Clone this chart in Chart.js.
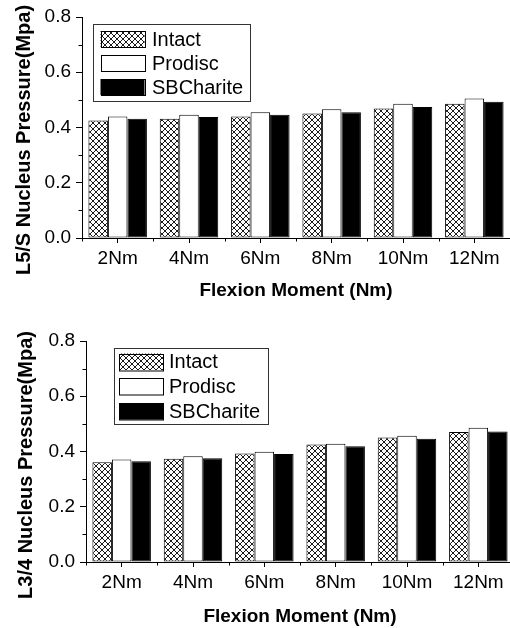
<!DOCTYPE html>
<html>
<head>
<meta charset="utf-8">
<script src="https://cdn.jsdelivr.net/npm/chart.js@4"></script>
<style>
  html, body { margin: 0; padding: 0; background: #fff; }
  body { width: 510px; height: 628px; overflow: hidden; position: relative; }
  canvas { position: absolute; left: 0; }
  #top { top: 0; }
  #bottom { top: 310px; }
</style>
</head>
<body>
<canvas id="top" width="510" height="310"></canvas>
<canvas id="bottom" width="514" height="318"></canvas>
<script>
const moments = ['2Nm', '4Nm', '6Nm', '8Nm', '10Nm', '12Nm'];
const seriesNames = ['Intact', 'Prodisc', 'SBCharite'];

// L5/S disc
const l5Intact = [0.425, 0.432, 0.440, 0.451, 0.469, 0.486];
const l5Prodisc = [0.440, 0.446, 0.455, 0.466, 0.486, 0.505];
const l5Charite = [0.432, 0.438, 0.446, 0.455, 0.474, 0.493];

// L3/4 disc
const l3Intact = [0.361, 0.374, 0.393, 0.425, 0.451, 0.471];
const l3Prodisc = [0.371, 0.383, 0.399, 0.428, 0.457, 0.486];
const l3Charite = [0.365, 0.376, 0.391, 0.419, 0.446, 0.472];

const yMin = 0, yMax = 0.8, yStep = 0.2;

const FONT = '"Liberation Sans", Arial, sans-serif';

function crossHatch() {
    const c = document.createElement('canvas');
    c.width = 6; c.height = 6;
    const g = c.getContext('2d');
    g.fillStyle = '#fff';
    g.fillRect(0, 0, 6, 6);
    g.strokeStyle = '#000';
    g.lineWidth = 0.9;
    g.beginPath();
    g.moveTo(-1, -1); g.lineTo(7, 7);
    g.moveTo(7, -1); g.lineTo(-1, 7);
    g.stroke();
    return g.createPattern(c, 'repeat');
}

// axis titles, minor ticks and the boxed legend
const decor = {
    id: 'decor',
    afterDraw(chart, args, o) {
        const ctx = chart.ctx;
        const ca = chart.chartArea;
        const xs = chart.scales.x, ys = chart.scales.y;
        ctx.save();
        ctx.strokeStyle = '#000';
        ctx.lineWidth = 1;

        ctx.beginPath();
        for (let v = yMin + yStep / 2; v < yMax; v += yStep) {
            const py = Math.round(ys.getPixelForValue(v)) + 0.5;
            ctx.moveTo(ca.left - 3.5, py);
            ctx.lineTo(ca.left, py);
        }
        for (let i = 0; i <= moments.length; i++) {
            const px = Math.round(xs.getPixelForValue(i - 0.5)) + 0.5;
            ctx.moveTo(px, ca.bottom);
            ctx.lineTo(px, ca.bottom + 3.5);
        }
        ctx.stroke();

        // titles
        ctx.fillStyle = '#000';
        ctx.textAlign = 'center';
        ctx.textBaseline = 'middle';
        ctx.font = 'bold 19px ' + FONT;
        ctx.fillText(o.xTitle, (ca.left + ca.right) / 2, o.xTitleY);
        ctx.save();
        ctx.translate(o.yTitleX, o.yTitleY);
        ctx.rotate(-Math.PI / 2);
        ctx.font = 'bold 20px ' + FONT;
        ctx.fillText(o.yTitle, 0, 0);
        ctx.restore();

        // legend
        const L = o.legend;
        ctx.strokeStyle = '#333';
        ctx.strokeRect(Math.round(L.x) + 0.5, Math.round(L.y) + 0.5, L.w, L.h);
        ctx.font = '20px ' + FONT;
        ctx.textAlign = 'left';
        chart.data.datasets.forEach((ds, i) => {
            const sy = L.y + L.first + i * L.step;
            ctx.fillStyle = ds.backgroundColor;
            ctx.fillRect(L.x + L.sx, sy, L.sw, L.sh);
            ctx.strokeStyle = '#000';
            ctx.strokeRect(Math.round(L.x + L.sx) + 0.5, Math.round(sy) + 0.5, L.sw, L.sh);
            ctx.fillStyle = '#000';
            ctx.fillText(ds.label, L.x + L.tx, sy + L.sh / 2 + 1);
        });
        ctx.restore();
    }
};

function makeChart(id, intact, prodisc, charite, lay) {
    const hatch = crossHatch();
    const bar = (label, data, bg) => ({
        label: label,
        data: data,
        backgroundColor: bg,
        borderColor: '#000',
        borderWidth: 1,
        borderSkipped: false,
        barPercentage: 1.0,
        categoryPercentage: 0.82
    });
    return new Chart(document.getElementById(id), {
        type: 'bar',
        data: {
            labels: moments,
            datasets: [
                bar(seriesNames[0], intact, hatch),
                bar(seriesNames[1], prodisc, '#fff'),
                bar(seriesNames[2], charite, '#000')
            ]
        },
        options: {
            responsive: false,
            animation: false,
            devicePixelRatio: 1,
            layout: { padding: { top: lay.top, left: 0, right: 0, bottom: 0 } },
            plugins: {
                legend: { display: false },
                tooltip: { enabled: false },
                decor: lay.decor
            },
            scales: {
                x: {
                    afterFit: s => { s.height = lay.xHeight; },
                    grid: { offset: false, drawOnChartArea: false, tickLength: 5, color: '#000', tickColor: '#000' },
                    border: { display: true, color: '#000', width: 1 },
                    ticks: { color: '#000', padding: 4, font: { family: FONT, size: 19 } }
                },
                y: {
                    min: yMin,
                    max: yMax,
                    afterFit: s => { s.width = lay.yWidth; },
                    grid: { drawOnChartArea: false, tickLength: 6, color: '#000', tickColor: '#000' },
                    border: { display: true, color: '#000', width: 1 },
                    ticks: {
                        stepSize: yStep,
                        color: '#000',
                        padding: 5,
                        font: { family: FONT, size: 19 },
                        callback: v => v.toFixed(1)
                    }
                }
            }
        },
        plugins: [decor]
    });
}

makeChart('top', l5Intact, l5Prodisc, l5Charite, {
    top: 17, xHeight: 72, yWidth: 82,
    decor: {
        xTitle: 'Flexion Moment (Nm)', xTitleY: 291,
        yTitle: 'L5/S Nucleus Pressure(Mpa)', yTitleX: 24, yTitleY: 140,
        legend: { x: 93, y: 24, w: 157, h: 77, sx: 7.5, sw: 44, sh: 16, tx: 59, first: 7, step: 24 }
    }
});

makeChart('bottom', l3Intact, l3Prodisc, l3Charite, {
    top: 31, xHeight: 66, yWidth: 86,
    decor: {
        xTitle: 'Flexion Moment (Nm)', xTitleY: 307,
        yTitle: 'L3/4 Nucleus Pressure(Mpa)', yTitleX: 26, yTitleY: 155,
        legend: { x: 114, y: 38, w: 154, h: 76, sx: 5, sw: 44, sh: 16.5, tx: 55, first: 5.5, step: 24.8 }
    }
});
</script>
</body>
</html>
